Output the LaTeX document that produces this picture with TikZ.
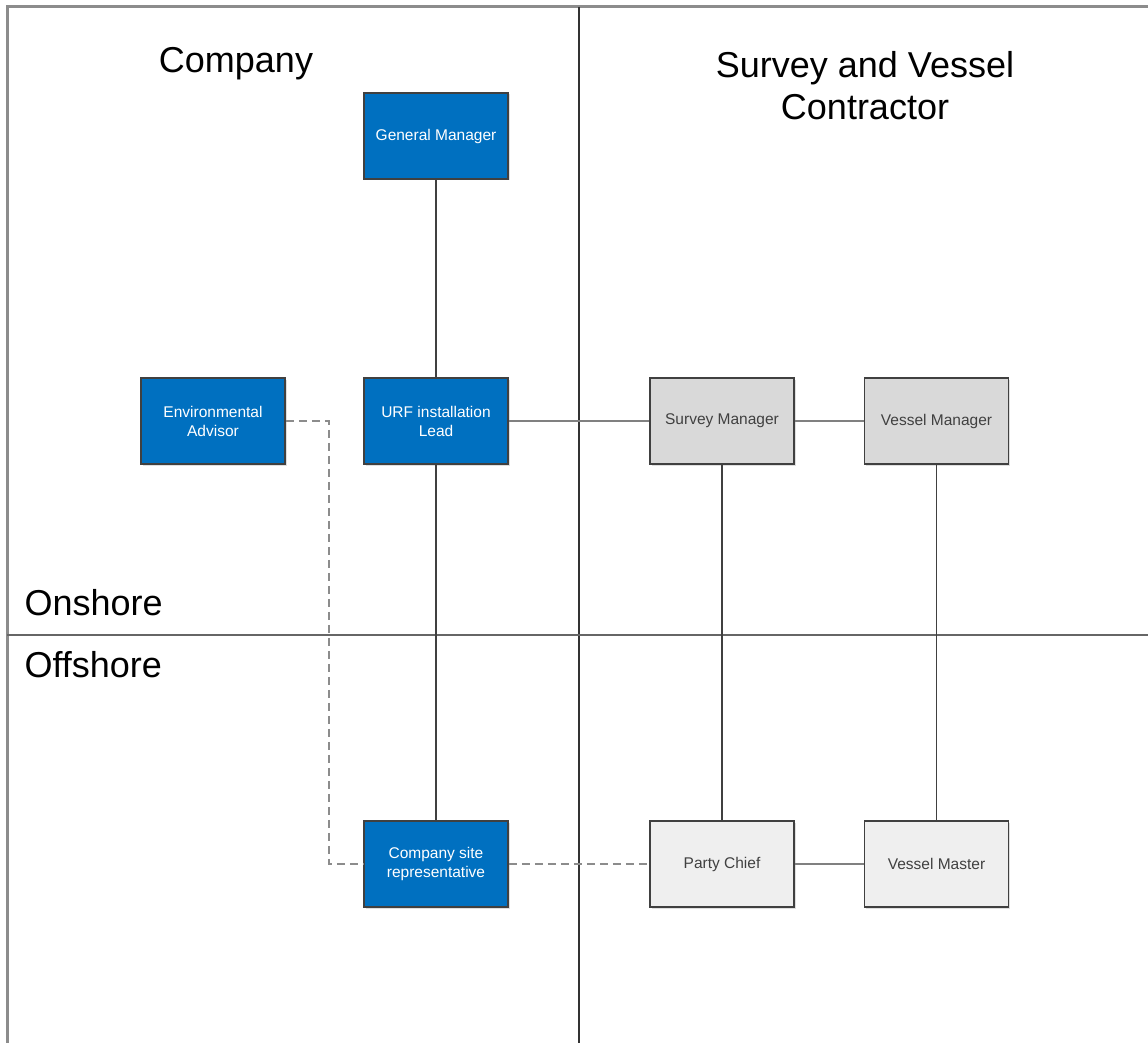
\documentclass[tikz,border=0pt]{standalone}
\usepackage{fontspec}
\setmainfont{Liberation Sans}
\usepackage{tikz}
\usetikzlibrary{positioning}
\usetikzlibrary{shadows}

\definecolor{compblue}{RGB}{0,112,192}
\definecolor{mgrgray}{RGB}{217,217,217}
\definecolor{offgray}{RGB}{239,239,239}
\definecolor{edgegray}{RGB}{64,64,64}

\begin{document}
\begin{tikzpicture}
  [x=1pt, y=-1pt,
   role/.style={draw=edgegray, line width=1.5pt, minimum width=144pt, minimum height=86pt,
       inner sep=2pt, align=center, font=\fontsize{15.5}{19}\selectfont,
       drop shadow={shadow xshift=1.5pt, shadow yshift=-1.5pt, opacity=0.25}},
   comp/.style={role, fill=compblue, text=white},
   contr/.style={role, fill=mgrgray, text=black!75},
   crew/.style={role, fill=offgray, text=black!75},
   heading/.style={font=\fontsize{36}{42}\selectfont, align=center},
   link/.style={draw=edgegray, line width=1.5pt},
   glink/.style={draw=black!50, line width=2pt},
   dlink/.style={draw=black!45, line width=2pt, dash pattern=on 8pt off 5pt},
  ]
  \useasboundingbox (0,0) rectangle (1148,1043);

  % frame
  \draw[black!45, line width=3pt] (7,1043) -- (7,7) -- (1148,7);
  \draw[black!80, line width=1.5pt] (579,7) -- (579,1043);
  \draw[black!60, line width=2pt] (7,635) -- (1148,635);

  % headings
  \node[heading] (company) at (236,64) {Company};
  \node[heading] (contractor) at (865,86) {Survey and Vessel\\Contractor};
  \node[heading, anchor=west] (onshore) at (21,603) {Onshore};
  \node[heading, anchor=west] (offshore) at (21,665) {Offshore};

  % company side
  \node[comp] (gm) at (436,136) {General Manager};
  \node[comp] (urf) at (436,421) {URF installation\\Lead};
  \node[comp] (env) at (213,421) {Environmental\\Advisor};
  \node[comp] (site) at (436,864) {Company site\\representative};

  % contractor side
  \node[contr] (survey) at (722,421) {Survey Manager};
  \node[contr, right=69pt of survey] (vessel) {Vessel Manager};
  \node[crew] (party) at (722,864) {Party Chief};
  \node[crew, right=69pt of party] (master) {Vessel Master};

  % reporting lines
  \draw[link] (gm) -- (urf);
  \draw[link] (urf) -- (site);
  \draw[glink] (urf) -- (survey);
  \draw[glink] (survey) -- (vessel);
  \draw[link] (survey) -- (party);
  \draw[link] (vessel) -- (master);
  \draw[glink] (party) -- (master);

  % communication lines
  \coordinate (bend) at (329,421);
  \draw[dlink] (env.east) -- (bend) |- (site.west);
  \draw[dlink] (site) -- (party);
\end{tikzpicture}
\end{document}
